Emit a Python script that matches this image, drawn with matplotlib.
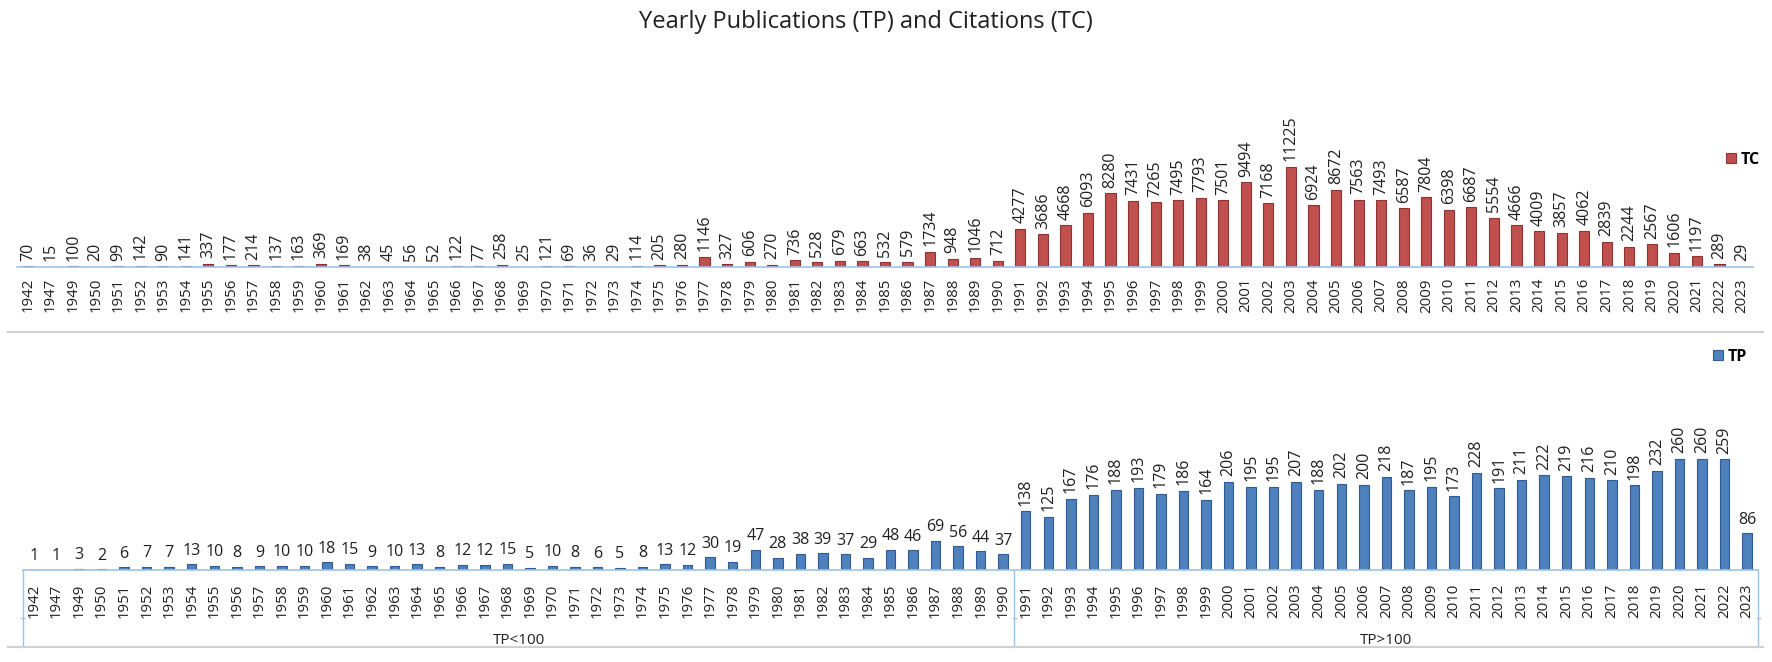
#!/usr/bin/env python
"""Yearly publications (TP) and citations (TC), two stacked bar charts."""

import matplotlib
matplotlib.use('Agg')
import matplotlib.pyplot as plt
from matplotlib.lines import Line2D
from matplotlib.transforms import blended_transform_factory

plt.rcParams['font.family'] = ['Open Sans', 'DejaVu Sans']

YEARS = [1942, 1947, 1949] + list(range(1950, 2024))

TC = [70, 15, 100, 20, 99, 142, 90, 141, 337, 177, 214, 137, 163, 369, 169, 38,
      45, 56, 52, 122, 77, 258, 25, 121, 69, 36, 29, 114, 205, 280, 1146, 327,
      606, 270, 736, 528, 679, 663, 532, 579, 1734, 948, 1046, 712, 4277, 3686,
      4668, 6093, 8280, 7431, 7265, 7495, 7793, 7501, 9494, 7168, 11225, 6924,
      8672, 7563, 7493, 6587, 7804, 6398, 6687, 5554, 4666, 4009, 3857, 4062,
      2839, 2244, 2567, 1606, 1197, 289, 29]

TP = [1, 1, 3, 2, 6, 7, 7, 13, 10, 8, 9, 10, 10, 18, 15, 9, 10, 13, 8, 12, 12,
      15, 5, 10, 8, 6, 5, 8, 13, 12, 30, 19, 47, 28, 38, 39, 37, 29, 48, 46, 69,
      56, 44, 37, 138, 125, 167, 176, 188, 193, 179, 186, 164, 206, 195, 195,
      207, 188, 202, 200, 218, 187, 195, 173, 228, 191, 211, 222, 219, 216, 210,
      198, 232, 260, 260, 259, 86]

GROUPS = ['TP<100', 'TP>100']
GROUP_SPLIT = 1991          # first year of the second group

TITLE = 'Yearly Publications (TP) and Citations (TC)'

TC_COLOR = '#C0504D'
TC_EDGE = '#8B3432'
TP_COLOR = '#4F81BD'
TP_EDGE = '#2E5B94'
AXIS_COLOR = '#9DC3E6'
FRAME_COLOR = '#D0D0D0'

W, H = 1772, 662


def px_box(left, top, right, bottom):
    """Pixel box -> figure fraction rect."""
    return [left / W, 1 - bottom / H, (right - left) / W, (bottom - top) / H]


def style_axis(ax):
    for s in ('top', 'right', 'left'):
        ax.spines[s].set_visible(False)
    ax.spines['bottom'].set_color(AXIS_COLOR)
    ax.spines['bottom'].set_linewidth(1.2)
    ax.set_yticks([])
    ax.set_xticks(range(len(YEARS)))
    ax.set_xticklabels([str(y) for y in YEARS], rotation=90, fontsize=10.8,
                       color='#202020')
    ax.set_xlim(-0.5, len(YEARS) - 0.5)
    ax.patch.set_alpha(0)


fig = plt.figure(figsize=(W / 100, H / 100), dpi=100)
fig.text(866 / W, 1 - 22 / H, TITLE, ha='center', va='center', fontsize=17,
         color='#202020')

# ---- top chart: citations
ax1 = fig.add_axes(px_box(16.7, 50, 1753.3, 267))
style_axis(ax1)
ax1.tick_params(axis='x', length=0, pad=8)
ax1.set_ylim(0, 11225 * 217 / 100)
x = list(range(len(YEARS)))
ax1.bar(x, TC, width=0.45, color=TC_COLOR, edgecolor=TC_EDGE, linewidth=0.8,
        label='TC')
for i, v in enumerate(TC):
    ax1.annotate(str(v), (i, v), xytext=(0, 4), textcoords='offset points',
                 rotation=90, ha='center', va='bottom', fontsize=11.5,
                 color='#202020')
ax1.legend(loc='center left', bbox_to_anchor=(1718 / W, 1 - 160 / H),
           bbox_transform=fig.transFigure, frameon=False,
           handlelength=0.6, handleheight=0.6, handletextpad=0.3,
           borderpad=0, prop={'weight': 'bold', 'size': 11.5})

# ---- bottom chart: publications
ax2 = fig.add_axes(px_box(22.7, 340, 1758.3, 570))
style_axis(ax2)
ax2.tick_params(axis='x', length=0, pad=10)
ax2.set_ylim(0, 230 / 0.427)
ax2.bar(x, TP, width=0.42, color=TP_COLOR, edgecolor=TP_EDGE, linewidth=0.8,
        label='TP')
for i, v in enumerate(TP):
    rot = 90 if v >= 100 else 0
    ax2.annotate(str(v), (i, v), xytext=(0, 4), textcoords='offset points',
                 rotation=rot, ha='center', va='bottom', fontsize=11.5,
                 color='#202020')
ax2.legend(loc='center left', bbox_to_anchor=(1705 / W, 1 - 357 / H),
           bbox_transform=fig.transFigure, frameon=False,
           handlelength=0.6, handleheight=0.6, handletextpad=0.3,
           borderpad=0, prop={'weight': 'bold', 'size': 11.5})

# group axis under the bottom chart (Excel style multi-level categories)
split = YEARS.index(GROUP_SPLIT) - 0.5
edges = [-0.5, split, len(YEARS) - 0.5]
trans = blended_transform_factory(ax2.transData, ax2.transAxes)
low = -(647 - 570) / 230
tick = -(618 - 570) / 230
for e in edges:
    ax2.plot([e, e], [0, low], color=AXIS_COLOR, lw=1.0, transform=trans,
             clip_on=False)
    ax2.plot([e - 0.06, e + 0.06], [tick, tick], color=AXIS_COLOR, lw=1.0,
             transform=trans, clip_on=False)
for name, a, b in zip(GROUPS, edges[:-1], edges[1:]):
    ax2.text((a + b) / 2, -(640 - 570) / 230, name, transform=trans,
             ha='center', va='center', fontsize=11, color='#202020')

# frame lines between / under the charts
for yy in (332, 647):
    fig.add_artist(Line2D([8 / W, 1763 / W], [1 - yy / H] * 2,
                          color=FRAME_COLOR, lw=1.5))

fig.savefig('out.png', dpi=100)
